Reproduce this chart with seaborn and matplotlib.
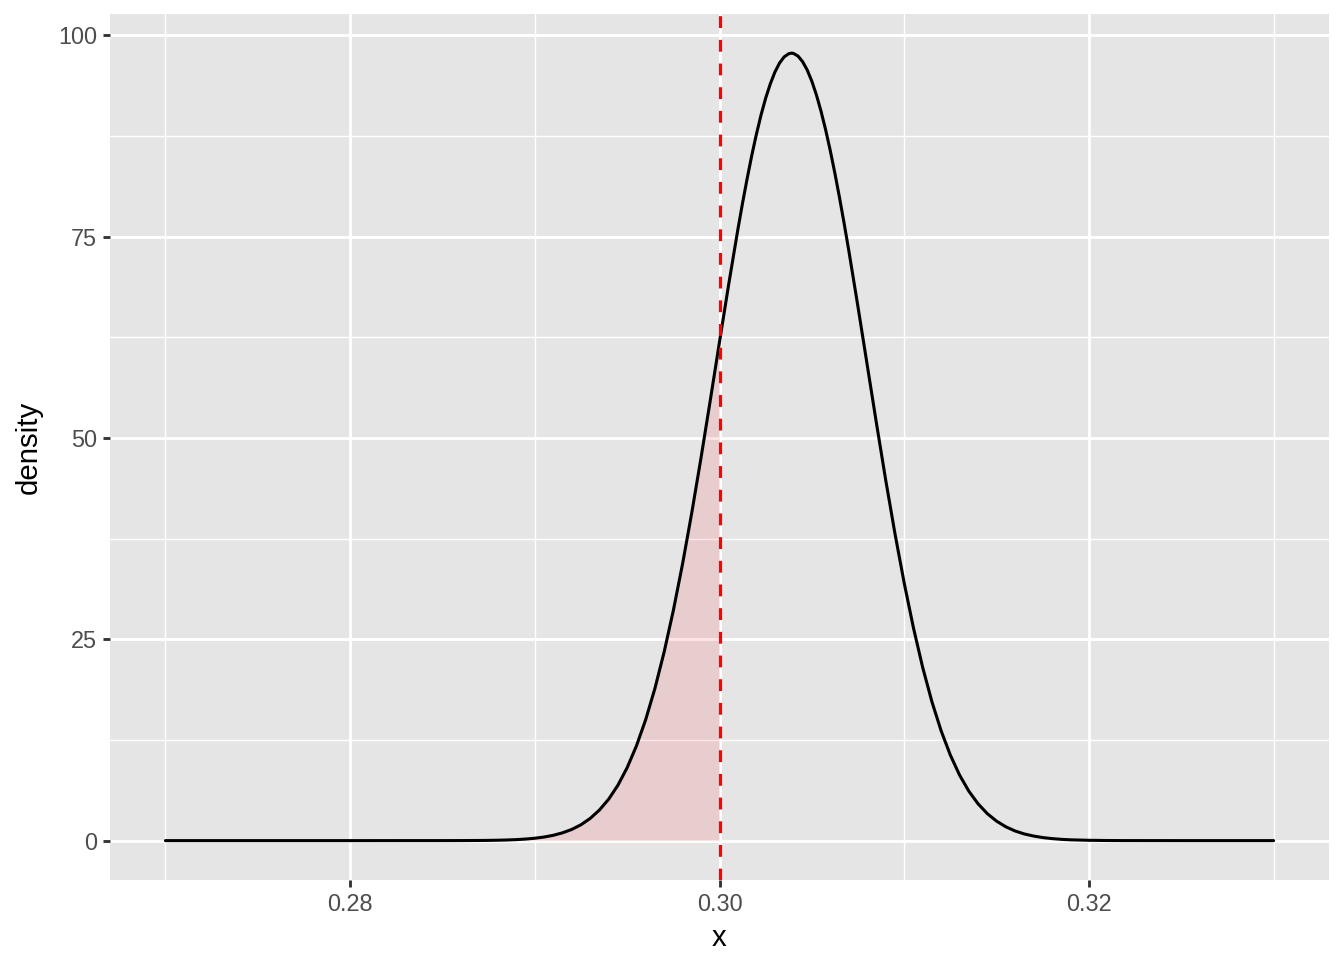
import numpy as np
import matplotlib
matplotlib.use("Agg")
import matplotlib.pyplot as plt
import seaborn as sns

# density values
x_vals = [0.2700, 0.2750, 0.2800, 0.2850, 0.2860, 0.2870, 0.2875,
          0.2880, 0.2885, 0.2890, 0.2895, 0.2900, 0.2905, 0.2910, 0.2915,
          0.2920, 0.2925, 0.2930, 0.2935, 0.2940, 0.2945, 0.2950, 0.2955,
          0.2960, 0.2965, 0.2970, 0.2975, 0.2980, 0.2985, 0.2990, 0.2995,
          0.3000, 0.3005, 0.3010, 0.30125, 0.3015, 0.30175, 0.3020, 0.30225,
          0.3025, 0.30275, 0.3030, 0.30325, 0.3035, 0.30375, 0.3039, 0.3040,
          0.30425, 0.3045, 0.30475, 0.3050, 0.30525, 0.3055, 0.30575, 0.3060,
          0.30625, 0.3065, 0.30675, 0.3070, 0.3075,
          0.3080, 0.3085, 0.3090, 0.3095, 0.3100, 0.3105, 0.3110, 0.3115,
          0.3120, 0.3125, 0.3130, 0.3135, 0.3140, 0.3145, 0.3150, 0.3155,
          0.3160, 0.3165, 0.3170, 0.3175, 0.3180, 0.3185, 0.3190, 0.3200,
          0.3210, 0.3220, 0.3250, 0.3300]
density = [0.0, 0.0, 0.0, 0.002, 0.006, 0.018, 0.030,
           0.049, 0.079, 0.124, 0.193, 0.295, 0.445, 0.660, 0.966,
           1.39, 1.97, 2.76, 3.80, 5.15, 6.88, 9.06, 11.75,
           15.00, 18.87, 23.40, 28.57, 34.36, 40.73, 47.54, 54.66,
           61.92, 69.10, 75.96, 79.19, 82.24, 85.11, 87.73, 90.11,
           92.19, 93.96, 95.43, 96.55, 97.31, 97.71, 97.78, 97.75,
           97.42, 96.72, 95.68, 94.29, 92.57, 90.54, 88.23, 85.65,
           82.83, 79.81, 76.61, 73.27, 66.25,
           59.02, 51.79, 44.76, 38.12, 31.98, 26.43, 21.51, 17.25,
           13.63, 10.61, 8.13, 6.14, 4.57, 3.35, 2.42, 1.72,
           1.20, 0.83, 0.57, 0.38, 0.25, 0.16, 0.10, 0.04,
           0.012, 0.003, 0.0, 0.0]
cutoff = 0.30

x_ticks = [0.28, 0.30, 0.32]
x_tick_labels = ["0.28", "0.30", "0.32"]
y_ticks = [0, 25, 50, 75, 100]

sns.set_theme(style="darkgrid")
plt.rcParams["font.family"] = ["Liberation Sans", "DejaVu Sans"]

fig = plt.figure(figsize=(7, 5), dpi=192)
ax = fig.add_axes([110 / 1344, 1 - 880 / 960, (1329 - 110) / 1344, (880 - 14) / 960])
ax.set_facecolor("#E5E5E5")

x_arr = np.array(x_vals)
d_arr = np.array(density)
mask = x_arr <= cutoff
ax.fill_between(x_arr[mask], 0, d_arr[mask], color="#FF0000", alpha=0.1, linewidth=0, zorder=2)

sns.lineplot(x=x_vals, y=density, color="black", linewidth=1.15, ax=ax, zorder=3)
ax.axvline(cutoff, color="#FF0000", linewidth=1.2, linestyle=(0, (3.7, 3.7)), zorder=4)

ax.set_xlim(0.267, 0.333)
ax.set_ylim(-4.89, 102.64)
ax.set_xticks(x_ticks)
ax.set_xticklabels(x_tick_labels)
ax.set_yticks(y_ticks)
ax.set_xticks([0.27, 0.29, 0.31, 0.33], minor=True)
ax.set_yticks([12.5, 37.5, 62.5, 87.5], minor=True)

ax.grid(which="major", color="white", linewidth=1.07)
ax.grid(which="minor", color="white", linewidth=0.53)
ax.set_axisbelow(True)
for s in ax.spines.values():
    s.set_visible(False)

ax.tick_params(axis="both", which="major", length=2.75, width=1.07, color="#333333",
               labelsize=8.8, labelcolor="#4D4D4D", pad=2.2, bottom=True, left=True)
ax.tick_params(axis="both", which="minor", length=0)

ax.set_xlabel("x", fontsize=11, color="black", labelpad=2.75)
ax.set_ylabel("density", fontsize=11, color="black", labelpad=5.5)

fig.savefig("out.png", dpi=192, facecolor="white")
